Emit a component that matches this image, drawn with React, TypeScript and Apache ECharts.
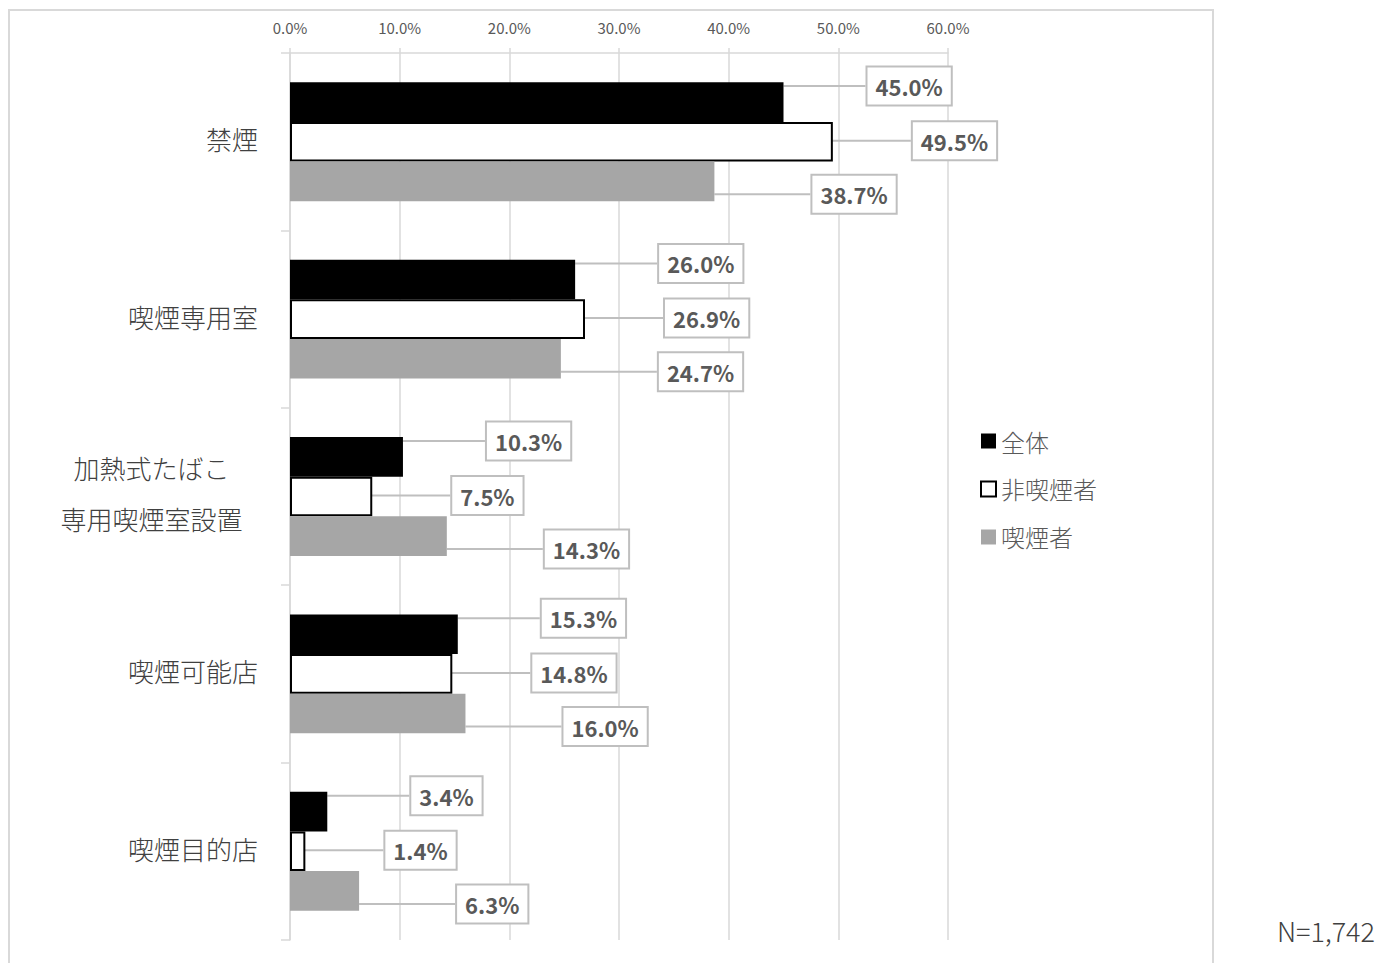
import React, { useEffect, useRef } from "react";
import * as echarts from "echarts";

const categories = ["禁煙", "喫煙専用室", "加熱式たばこ\n専用喫煙室設置", "喫煙可能店", "喫煙目的店"];
const seriesNames = ["全体", "非喫煙者", "喫煙者"];
const totalValues = [45.0, 26.0, 10.3, 15.3, 3.4];
const nonSmokerValues = [49.5, 26.9, 7.5, 14.8, 1.4];
const smokerValues = [38.7, 24.7, 14.3, 16.0, 6.3];
const xTicks = [0, 10, 20, 30, 40, 50, 60];
const noteText = "N=1,742";

const FONT = '"Noto Sans CJK JP", "Noto Sans", sans-serif';

export default function App() {
  const ref = useRef<HTMLDivElement>(null);
  useEffect(() => {
    if (!ref.current) return;
    const chart = echarts.init(ref.current, null, { renderer: "svg" });
    const labelBase = {
      show: true,
      position: "right" as const,
      distance: 4,
      formatter: (p: any) => `${Number(p.value).toFixed(1)}%`,
      fontFamily: FONT,
      fontSize: 22,
      fontWeight: "bold" as const,
      color: "#595959",
      backgroundColor: "#ffffff",
      borderColor: "#bfbfbf",
      borderWidth: 2,
      padding: [8, 8, 7, 8],
    };
    const labelLine = { show: true, lineStyle: { color: "#bfbfbf", width: 2 } };
    const mk = (name: string, data: number[], itemStyle: any, dx: number, dy: number) => ({
      name,
      type: "bar",
      data,
      barGap: "0%",
      barCategoryGap: "33%",
      itemStyle,
      label: labelBase,
      labelLine,
      labelLayout: { dx, dy },
    });
    chart.setOption({
      animation: false,
      textStyle: { fontFamily: FONT },
      grid: { left: 290, right: 431, top: 53, bottom: 23, containLabel: false },
      xAxis: {
        type: "value",
        position: "top",
        min: xTicks[0],
        max: xTicks[xTicks.length - 1],
        interval: 10,
        axisLine: { show: true, lineStyle: { color: "#d9d9d9", width: 1.5 } },
        axisTick: { show: true, length: 5, lineStyle: { color: "#d9d9d9", width: 1.5 } },
        splitLine: { show: true, lineStyle: { color: "#d9d9d9", width: 1.5 } },
        axisLabel: {
          margin: 18,
          fontSize: 15,
          color: "#595959",
          fontFamily: FONT,
          formatter: (v: number) => `${v.toFixed(1)}%`,
        },
      },
      yAxis: {
        type: "category",
        inverse: true,
        data: categories,
        axisLine: { show: true, lineStyle: { color: "#d9d9d9", width: 1.5 } },
        axisTick: { show: true, length: 9, lineStyle: { color: "#d9d9d9", width: 1.5 } },
        axisLabel: {
          margin: 32,
          fontSize: 26,
          color: "#404040",
          fontFamily: FONT,
          fontWeight: 300,
          formatter: (v: string) => {
            if (v.indexOf("\n") >= 0) {
              return v
                .split("\n")
                .map((s) => `{m|${s}}`)
                .join("\n");
            }
            return `{s|${v}}`;
          },
          rich: {
            m: {
              width: 213,
              align: "center",
              fontSize: 26,
              lineHeight: 51,
              color: "#404040",
              fontFamily: FONT,
              fontWeight: 300,
              padding: [0, 0, 8, 0],
            },
            s: {
              fontSize: 26,
              color: "#404040",
              fontFamily: FONT,
              fontWeight: 300,
              padding: [0, 0, 6, 0],
            },
          },
        },
      },
      legend: {
        orient: "vertical",
        left: 975,
        top: 424,
        itemGap: 24,
        itemWidth: 15,
        itemHeight: 15,
        icon: "rect",
        textStyle: { fontSize: 24, color: "#595959", fontFamily: FONT, fontWeight: 300 },
        data: seriesNames,
      },
      graphic: [
        {
          type: "rect",
          z: -10,
          silent: true,
          shape: { x: 9, y: 10, width: 1204, height: 975 },
          style: { fill: "none", stroke: "#d9d9d9", lineWidth: 2 },
        },
        {
          type: "text",
          right: 4,
          top: 917,
          style: { text: noteText, fontSize: 27, fill: "#404040", fontFamily: FONT, fontWeight: 300 },
        },
      ],
      series: [
        mk(seriesNames[0], totalValues, { color: "#000000" }, 80, -16),
        mk(seriesNames[1], nonSmokerValues, { color: "#ffffff", borderColor: "#000000", borderWidth: 2 }, 76, -1),
        mk(seriesNames[2], smokerValues, { color: "#a6a6a6" }, 94, 13),
      ],
    });
    return () => chart.dispose();
  }, []);
  return (
    <div
      ref={ref}
      style={{ position: "absolute", left: 0, top: 0, width: 1379, height: 963, background: "#ffffff" }}
    />
  );
}
